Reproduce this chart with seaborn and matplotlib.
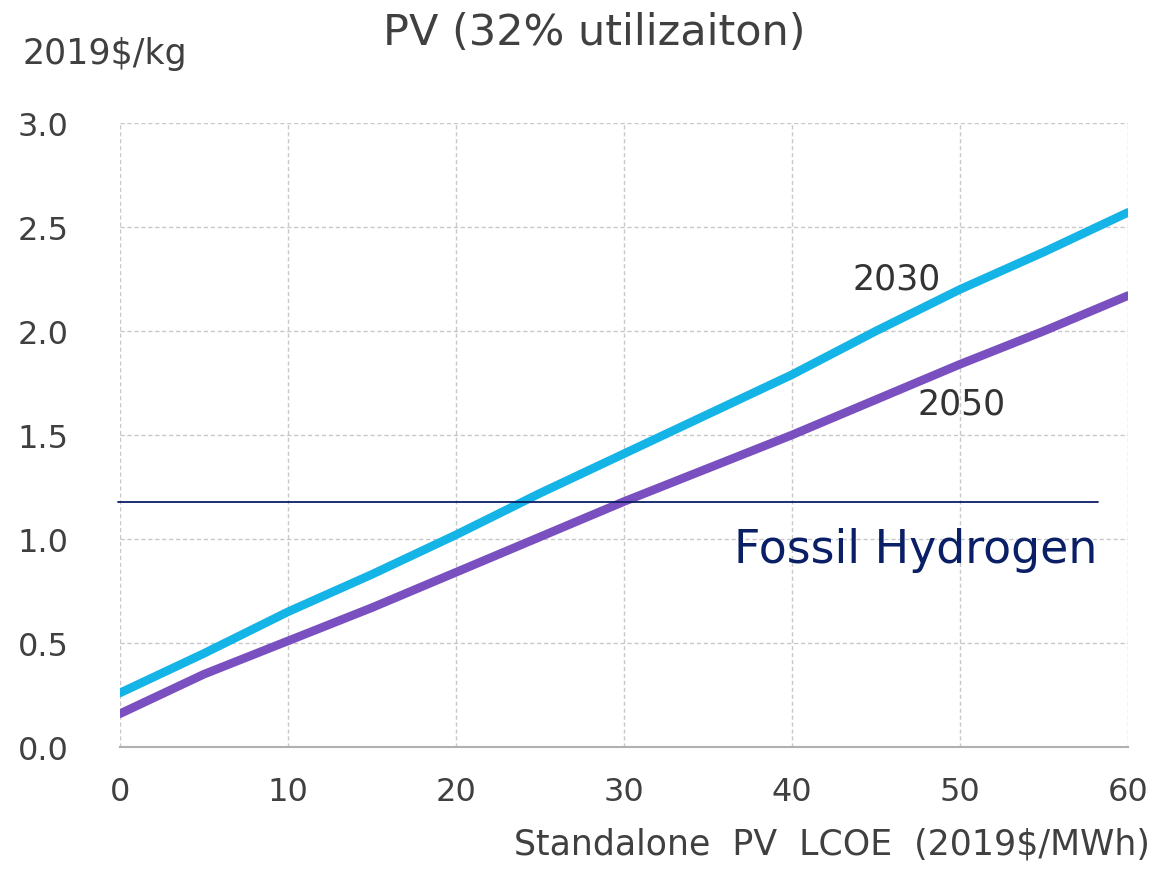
import pandas as pd
import numpy as np
import matplotlib.pyplot as plt
import seaborn as sns

sns.set_style("white")
plt.rcParams["font.family"] = ["DejaVu Sans"]

# values
lcoe = [0, 5, 10, 15, 20, 25, 30, 35, 40, 45, 50, 55, 60]
cost_2030 = [0.26, 0.45, 0.65, 0.83, 1.02, 1.22, 1.41, 1.60, 1.79, 2.00, 2.20, 2.38, 2.57]
cost_2050 = [0.16, 0.35, 0.51, 0.67, 0.84, 1.01, 1.18, 1.34, 1.50, 1.67, 1.84, 2.00, 2.17]
fossil_h2 = 1.18
fossil_x = [-0.1, 58.2]
x_ticks = [0, 10, 20, 30, 40, 50, 60]
y_ticks = [0.0, 0.5, 1.0, 1.5, 2.0, 2.5, 3.0]

df = pd.DataFrame({
    "lcoe": lcoe * 2,
    "cost": cost_2030 + cost_2050,
    "year": ["2030"] * len(lcoe) + ["2050"] * len(lcoe),
})

fig = plt.figure(figsize=(11.6, 8.7), dpi=100)
ax = fig.add_axes([0.1034, 0.1402, 0.869, 0.7173])

sns.lineplot(data=df, x="lcoe", y="cost", hue="year",
             palette={"2030": "#14b4e6", "2050": "#7a4fbf"},
             linewidth=6.2, legend=False, ax=ax)

# fossil hydrogen reference line
ax.plot(fossil_x, [fossil_h2, fossil_h2], color="#0b1f66", linewidth=1.3, clip_on=False)

ax.set_xlim(0, 60)
ax.set_ylim(0, 3.0)
ax.set_xticks(x_ticks)
ax.set_yticks(y_ticks)
ax.set_yticklabels([f"{v:.1f}" for v in y_ticks])
ax.grid(True, color="#c8c8c8", linestyle=(0, (3, 2)), linewidth=1.0)
for s in ["top", "right", "left"]:
    ax.spines[s].set_visible(False)
ax.spines["bottom"].set_color("#b0b0b0")
ax.spines["bottom"].set_linewidth(1.5)
ax.tick_params(axis="x", direction="out", length=9, width=1.2, color="#b0b0b0",
               labelsize=23, labelcolor="#404040", pad=12)
ax.tick_params(axis="y", length=0, labelsize=23, labelcolor="#404040", pad=37)
ax.set_xlabel("")
ax.set_ylabel("")

ax.text(46.25, 2.25, "2030", fontsize=25, color="#333333", ha="center", va="center")
ax.text(50.1, 1.65, "2050", fontsize=25, color="#333333", ha="center", va="center")
ax.text(58.2, 0.95, "Fossil Hydrogen", fontsize=33, color="#0b1f66", ha="right", va="center")

fig.text(0.512, 0.962, "PV (32% utilizaiton)", fontsize=31, color="#404040", ha="center", va="center")
fig.text(0.019, 0.938, "2019$/kg", fontsize=25, color="#404040", ha="left", va="center")
fig.text(0.991, 0.010, "Standalone  PV  LCOE  (2019$/MWh)", fontsize=25, color="#404040",
         ha="right", va="bottom")

fig.savefig("out.png", dpi=100)
